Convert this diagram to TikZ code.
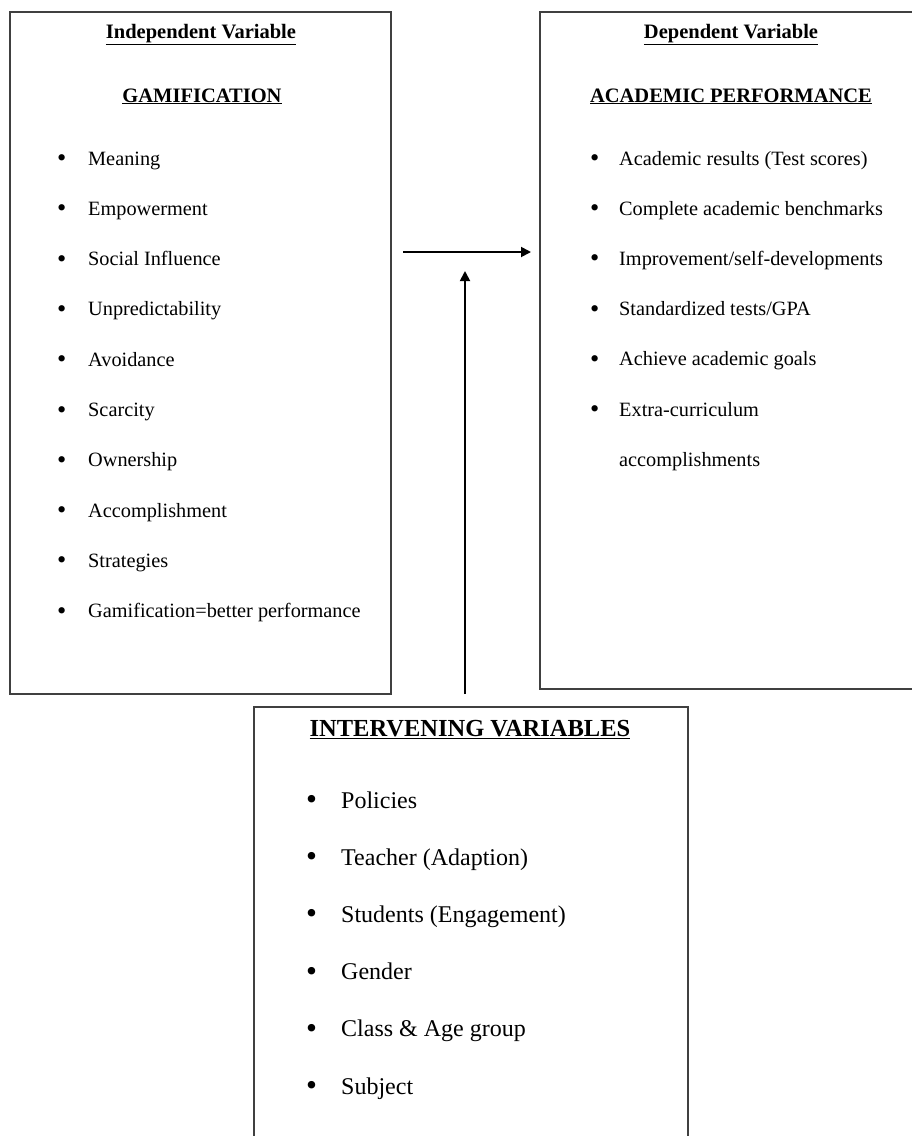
\documentclass[tikz,border=0pt]{standalone}
\usepackage{fontspec}
\setmainfont{Liberation Serif}
\usetikzlibrary{arrows.meta}
\begin{document}
\begin{tikzpicture}[x=1pt,y=-1pt,
  boxline/.style={draw=black!75, line width=1.4pt},
  ttl/.style={font=\fontsize{20.5}{24}\selectfont\bfseries, anchor=base, inner sep=0pt},
  itm/.style={font=\fontsize{20.3}{24}\selectfont, anchor=base west, inner sep=0pt},
  bttl/.style={font=\fontsize{24.5}{28}\selectfont\bfseries, anchor=base, inner sep=0pt},
  bitm/.style={font=\fontsize{24}{28}\selectfont, anchor=base west, inner sep=0pt},
  arr/.style={line width=1.8pt, -{Triangle[length=10pt,width=10pt]}}
]
\useasboundingbox (0,0) rectangle (911,1136);
\fill[white] (0,0) rectangle (911,1136);
\newcommand{\bl}[2]{\makebox[#1][l]{\raisebox{-1.5pt}{\scalebox{1.3}{\textbullet}}}#2}
% boxes
\draw[boxline] (10,12) rectangle (391,694);
\draw[boxline] (540,12) rectangle (920,689);
\draw[boxline] (254,707) rectangle (688,1145);
% left box
\node[ttl] (iv) at (201,38) {\underline{Independent Variable}};
\node[ttl] (gam) at (202,102) {\underline{GAMIFICATION}};
\foreach \t [count=\i] in {Meaning,Empowerment,Social Influence,Unpredictability,Avoidance,Scarcity,Ownership,Accomplishment,Strategies,Gamification=better performance}{
  \node[itm] (l\i) at (57,{165+(\i-1)*50.3}) {\bl{31pt}{\t}};
}
% right box
\node[ttl] (dv) at (731,38) {\underline{Dependent Variable}};
\node[ttl] (ap) at (731,102) {\underline{ACADEMIC PERFORMANCE}};
\foreach \t [count=\i] in {Academic results (Test scores),Complete academic benchmarks,Improvement/self-developments,Standardized tests/GPA,Achieve academic goals,Extra-curriculum}{
  \node[itm] (r\i) at (590,{165+(\i-1)*50.2}) {\bl{29pt}{\t}};
}
\node[itm] (r7) at (619,466) {accomplishments};
% bottom box
\node[bttl] (ivt) at (470,736) {\underline{INTERVENING VARIABLES}};
\foreach \t [count=\i] in {Policies,Teacher (Adaption),Students (Engagement),Gender,Class \& Age group,Subject}{
  \node[bitm] (b\i) at (306,{808+(\i-1)*57.2}) {\bl{35pt}{\t}};
}
% arrows
\coordinate (hs) at (403,252);
\coordinate (he) at (531,252);
\coordinate (vs) at (465,694);
\coordinate (ve) at (465,271);
\draw[arr] (hs) -- (he);
\draw[arr] (vs) -- (ve);
\end{tikzpicture}
\end{document}
